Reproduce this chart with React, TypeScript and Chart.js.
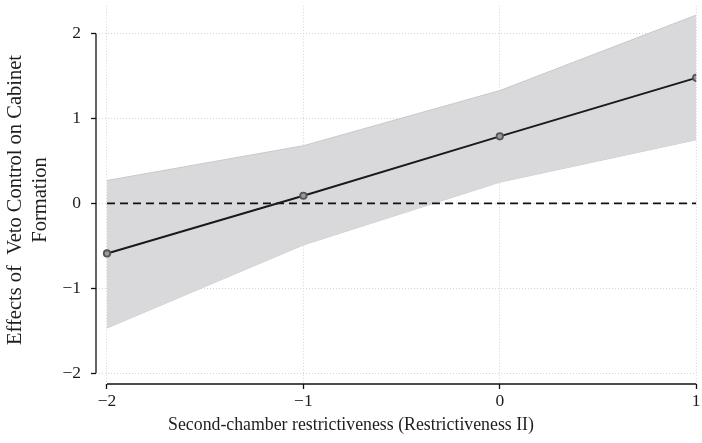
import React, { useEffect, useRef } from "react";
import { Chart, registerables } from "chart.js";

Chart.register(...registerables);

const xValues = [-2, -1, 0, 1];
const effect = [-0.59, 0.09, 0.79, 1.48];
const upperCI = [0.27, 0.68, 1.33, 2.22];
const lowerCI = [-1.47, -0.49, 0.25, 0.75];
const zeroRef = [0, 0, 0, 0];
const xTicks = [-2, -1, 0, 1];
const yTicks = [-2, -1, 0, 1, 2];
const xTitle = "Second-chamber restrictiveness (Restrictiveness II)";
const yTitleLines = ["Effects of  Veto Control on Cabinet", "Formation"];

const FONT = "'Liberation Serif', 'Times New Roman', serif";

const pts = (ys: number[]) => xValues.map((x, i) => ({ x, y: ys[i] }));
const fmt = (v: number) => (v < 0 ? "\u2212" + Math.abs(v) : String(v));

const axesPlugin = {
  id: "customAxes",
  afterDraw(chart: any) {
    const { ctx, chartArea, scales } = chart;
    const xs = scales.x;
    const ys = scales.y;
    ctx.save();
    ctx.strokeStyle = "#111";
    ctx.lineWidth = 1.3;
    ctx.beginPath();
    ctx.moveTo(chartArea.left, ys.getPixelForValue(yTicks[yTicks.length - 1]));
    ctx.lineTo(chartArea.left, ys.getPixelForValue(yTicks[0]));
    ctx.stroke();
    ctx.beginPath();
    ctx.moveTo(xs.getPixelForValue(xTicks[0]), chartArea.bottom);
    ctx.lineTo(xs.getPixelForValue(xTicks[xTicks.length - 1]), chartArea.bottom);
    ctx.stroke();

    ctx.fillStyle = "#1e1e1e";
    ctx.font = "17.8px " + FONT;
    ctx.textAlign = "center";
    ctx.textBaseline = "alphabetic";
    ctx.fillText(xTitle, chart.width / 2, 430);

    ctx.font = "20.5px " + FONT;
    const cy = 200;
    ctx.textBaseline = "middle";
    const xsPos = [16, 41];
    yTitleLines.forEach((line, i) => {
      ctx.save();
      ctx.translate(xsPos[i], cy);
      ctx.rotate(-Math.PI / 2);
      ctx.fillText(line, 0, 0);
      ctx.restore();
    });
    ctx.restore();
  },
};

export default function App() {
  const ref = useRef<HTMLCanvasElement | null>(null);
  useEffect(() => {
    if (!ref.current) return;
    const chart = new Chart(ref.current, {
      type: "line",
      data: {
        datasets: [
          {
            label: "effect",
            data: pts(effect),
            borderColor: "#1a1a1a",
            borderWidth: 2,
            pointRadius: 3.2,
            pointBackgroundColor: "#9a9a9a",
            pointBorderColor: "#555",
            pointBorderWidth: 1.8,
            fill: false,
            order: 0,
          },
          {
            label: "zero",
            data: pts(zeroRef),
            borderColor: "#111",
            borderWidth: 1.6,
            borderDash: [8, 5],
            pointRadius: 0,
            fill: false,
            order: 1,
          },
          {
            label: "upper",
            data: pts(upperCI),
            borderColor: "#c9c9c9",
            borderWidth: 1,
            pointRadius: 0,
            backgroundColor: "#d9d9db",
            fill: "+1",
            order: 2,
          },
          {
            label: "lower",
            data: pts(lowerCI),
            borderColor: "#c9c9c9",
            borderWidth: 1,
            pointRadius: 0,
            fill: false,
            order: 3,
          },
        ],
      },
      options: {
        animation: false,
        responsive: false,
        devicePixelRatio: 1,
        layout: { padding: { top: 5, right: 5, left: 0, bottom: 0 } },
        plugins: {
          legend: { display: false },
          tooltip: { enabled: false },
        },
        scales: {
          x: {
            type: "linear",
            min: -2 - 11 / 196.7,
            max: 1,
            afterBuildTicks: (s: any) => {
              s.ticks = xTicks.map((v) => ({ value: v }));
            },
            afterFit: (s: any) => {
              s.height = 59;
              s.paddingLeft = 0;
              s.paddingRight = 0;
            },
            border: { display: false, dash: [1, 2] },
            grid: {
              color: "#d6d6d6",
              lineWidth: 1,
              drawTicks: true,
              tickLength: 5,
              tickColor: "#111",
              tickWidth: 1.3,
            },
            ticks: {
              color: "#1e1e1e",
              padding: 2,
              maxRotation: 0,
              font: { family: FONT, size: 17.5 },
              callback: (v: any) => fmt(Number(v)),
            },
          },
          y: {
            type: "linear",
            min: -2 - 11 / 85,
            max: 2 + 28 / 85,
            afterBuildTicks: (s: any) => {
              s.ticks = yTicks.map((v) => ({ value: v }));
            },
            afterFit: (s: any) => {
              s.width = 96;
              s.paddingTop = 0;
              s.paddingBottom = 0;
            },
            border: { display: false, dash: [1, 2] },
            grid: {
              color: "#d6d6d6",
              lineWidth: 1,
              drawTicks: true,
              tickLength: 5,
              tickColor: "#111",
              tickWidth: 1.3,
            },
            ticks: {
              color: "#1e1e1e",
              padding: 10,
              font: { family: FONT, size: 17.5 },
              callback: (v: any) => fmt(Number(v)),
            },
          },
        },
      },
      plugins: [axesPlugin],
    } as any);
    return () => chart.destroy();
  }, []);
  return (
    <div style={{ position: "absolute", left: 0, top: 0, width: 702, height: 443, background: "#fff" }}>
      <canvas ref={ref} width={702} height={443} />
    </div>
  );
}
